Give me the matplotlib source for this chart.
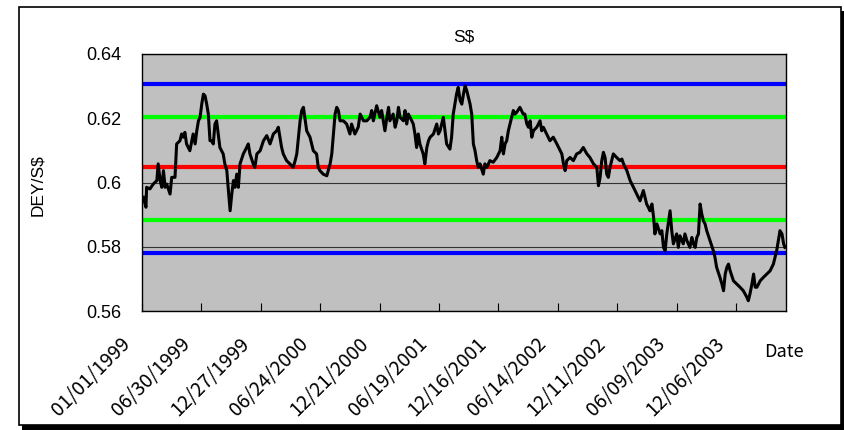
import numpy as np
import matplotlib
matplotlib.use("Agg")
import matplotlib.pyplot as plt
import matplotlib.dates as mdates
from matplotlib.patches import Rectangle
from matplotlib.transforms import ScaledTranslation

# DEY per S$ (days counted from 01/01/1999)
day_offset = [4, 12, 14, 24, 34, 45, 49, 55, 60, 65, 70, 75, 85, 90, 100, 105, 115, 120, 125, 130,
              135, 145, 151, 155, 161, 166, 171, 176, 181, 186, 191, 196, 201, 206, 211, 216, 221, 226,
              231, 236, 246, 251, 257, 261, 267, 272, 277, 282, 287, 292, 297, 307, 317, 322, 327, 337,
              342, 348, 358, 368, 378, 388, 398, 408, 413, 418, 423, 428, 438, 448, 458, 464, 469, 474,
              479, 484, 489, 499, 509, 519, 529, 534, 539, 549, 560, 570, 575, 580, 585, 590, 595, 600,
              610, 620, 630, 635, 645, 655, 661, 671, 681, 691, 696, 701, 711, 721, 726, 731, 736, 742,
              747, 751, 761, 767, 772, 777, 782, 792, 797, 802, 807, 812, 822, 827, 832, 837, 842, 852,
              857, 863, 868, 873, 883, 893, 898, 903, 913, 923, 933, 938, 943, 948, 953, 958, 964, 969,
              974, 979, 984, 989, 994, 999, 1004, 1009, 1014, 1019, 1024, 1029, 1034, 1039, 1045, 1054,
              1064, 1075, 1085, 1090, 1095, 1100, 1105, 1110, 1115, 1120, 1125, 1130, 1135, 1145, 1155,
              1160, 1166, 1171, 1176, 1181, 1186, 1196, 1206, 1211, 1216, 1226, 1236, 1246, 1257, 1267,
              1272, 1277, 1282, 1287, 1297, 1307, 1317, 1327, 1337, 1348, 1357, 1368, 1378, 1383, 1388,
              1393, 1398, 1403, 1408, 1413, 1418, 1428, 1438, 1448, 1454, 1459, 1469, 1479, 1489, 1499,
              1509, 1519, 1524, 1529, 1534, 1539, 1545, 1550, 1554, 1560, 1570, 1575, 1580, 1585, 1590,
              1600, 1605, 1610, 1620, 1625, 1630, 1640, 1645, 1651, 1660, 1666, 1671, 1676, 1681, 1686,
              1691, 1696, 1701, 1706, 1711, 1721, 1731, 1736, 1741, 1751, 1757, 1762, 1767, 1772, 1777,
              1782, 1792, 1802, 1812, 1822, 1833, 1837, 1842, 1848, 1853, 1858, 1863, 1873, 1883, 1893,
              1903, 1913, 1918, 1923, 1928, 1933, 1939, 1944, 1948]
rate = [0.5954, 0.5923, 0.5985, 0.5980, 0.5995, 0.6006, 0.6058, 0.6006, 0.5985, 0.6037, 0.5985,
        0.5995, 0.5964, 0.6016, 0.6016, 0.6120, 0.6130, 0.6151, 0.6141, 0.6156, 0.6120, 0.6099,
        0.6130, 0.6151, 0.6120, 0.6161, 0.6192, 0.6203, 0.6244, 0.6275, 0.6270, 0.6244, 0.6213,
        0.6130, 0.6130, 0.6120, 0.6182, 0.6192, 0.6151, 0.6109, 0.6089, 0.6058, 0.6037, 0.5985,
        0.5912, 0.5964, 0.6006, 0.5985, 0.6026, 0.5985, 0.6058, 0.6089, 0.6109, 0.6120, 0.6089,
        0.6058, 0.6047, 0.6089, 0.6099, 0.6130, 0.6146, 0.6120, 0.6151, 0.6161, 0.6172, 0.6141,
        0.6109, 0.6089, 0.6068, 0.6058, 0.6047, 0.6068, 0.6089, 0.6141, 0.6192, 0.6224, 0.6234,
        0.6161, 0.6141, 0.6099, 0.6089, 0.6047, 0.6037, 0.6026, 0.6021, 0.6058, 0.6089, 0.6151,
        0.6213, 0.6234, 0.6224, 0.6192, 0.6192, 0.6182, 0.6151, 0.6182, 0.6151, 0.6172, 0.6213,
        0.6192, 0.6192, 0.6203, 0.6224, 0.6192, 0.6239, 0.6203, 0.6224, 0.6192, 0.6161, 0.6203,
        0.6234, 0.6192, 0.6213, 0.6172, 0.6192, 0.6234, 0.6203, 0.6192, 0.6224, 0.6182, 0.6213,
        0.6203, 0.6182, 0.6151, 0.6109, 0.6151, 0.6120, 0.6089, 0.6058, 0.6109, 0.6130, 0.6141,
        0.6151, 0.6182, 0.6151, 0.6161, 0.6203, 0.6120, 0.6104, 0.6141, 0.6213, 0.6244, 0.6275,
        0.6296, 0.6255, 0.6244, 0.6275, 0.6301, 0.6286, 0.6265, 0.6244, 0.6213, 0.6120, 0.6099,
        0.6068, 0.6047, 0.6058, 0.6042, 0.6026, 0.6058, 0.6047, 0.6068, 0.6063, 0.6078, 0.6099,
        0.6141, 0.6089, 0.6120, 0.6130, 0.6161, 0.6182, 0.6203, 0.6224, 0.6213, 0.6218, 0.6234,
        0.6213, 0.6213, 0.6182, 0.6172, 0.6192, 0.6141, 0.6161, 0.6172, 0.6192, 0.6161, 0.6172,
        0.6151, 0.6130, 0.6141, 0.6120, 0.6099, 0.6089, 0.6058, 0.6037, 0.6068, 0.6078, 0.6068,
        0.6089, 0.6094, 0.6109, 0.6089, 0.6078, 0.6058, 0.6047, 0.5990, 0.6016, 0.6068, 0.6094,
        0.6078, 0.6026, 0.6016, 0.6047, 0.6089, 0.6078, 0.6068, 0.6073, 0.6058, 0.6037, 0.6006,
        0.5985, 0.5964, 0.5943, 0.5975, 0.5954, 0.5933, 0.5923, 0.5912, 0.5933, 0.5892, 0.5840,
        0.5871, 0.5840, 0.5850, 0.5798, 0.5788, 0.5840, 0.5912, 0.5850, 0.5809, 0.5840, 0.5798,
        0.5834, 0.5809, 0.5840, 0.5819, 0.5798, 0.5829, 0.5809, 0.5798, 0.5829, 0.5840, 0.5933,
        0.5902, 0.5881, 0.5871, 0.5850, 0.5819, 0.5788, 0.5767, 0.5736, 0.5705, 0.5684, 0.5663,
        0.5715, 0.5736, 0.5746, 0.5725, 0.5694, 0.5684, 0.5674, 0.5663, 0.5642, 0.5632, 0.5653,
        0.5684, 0.5715, 0.5674, 0.5674, 0.5694, 0.5705, 0.5715, 0.5725, 0.5746, 0.5767, 0.5788,
        0.5819, 0.5850, 0.5840, 0.5809, 0.5798]

# reference levels: mean, +/- band (green), outer band (blue)
mean_level = 0.6047
green_levels = [0.6204, 0.5883]
blue_levels = [0.6307, 0.5780]

tick_labels = ['01/01/1999', '06/30/1999', '12/27/1999', '06/24/2000', '12/21/2000', '06/19/2001',
               '12/16/2001', '06/14/2002', '12/11/2002', '06/09/2003', '12/06/2003']
y_ticks = [0.56, 0.58, 0.6, 0.62, 0.64]
y_tick_labels = ['0.56', '0.58', '0.6', '0.62', '0.64']

start = np.datetime64('1999-01-01')
dates = start + np.array(day_offset).astype('timedelta64[D]')
tick_dates = [np.datetime64(f"{s[6:]}-{s[:2]}-{s[3:5]}") for s in tick_labels]
end = start + np.timedelta64(1950, 'D')

fig = plt.figure(figsize=(8.45, 4.30), dpi=100)
W, H = 845, 430

# outer chart frame with a drop shadow
fig.patches.append(Rectangle((22 / W, 0), 823 / W, 419 / H, transform=fig.transFigure,
                             facecolor='black', edgecolor='none', zorder=-2))
fig.patches.append(Rectangle((19 / W, 5 / H), 822 / W, 418 / H, transform=fig.transFigure,
                             facecolor='white', edgecolor='black', linewidth=1.2, zorder=-1))

ax = fig.add_axes([142 / W, 1 - 311 / H, 643.6 / W, 257 / H])
ax.set_facecolor('#c0c0c0')

for y in y_ticks:
    ax.axhline(y, color='#333333', linewidth=0.8, zorder=1)
for y in blue_levels:
    ax.axhline(y, color='#0000ff', linewidth=3, zorder=2)
for y in green_levels:
    ax.axhline(y, color='#00ff00', linewidth=3, zorder=2)
ax.axhline(mean_level, color='#ff0000', linewidth=3, zorder=2)

ax.plot(dates, rate, color='black', linewidth=2.2, zorder=3)

ax.set_xlim(start, end)
ax.set_ylim(0.56, 0.64)
ax.set_yticks(y_ticks)
ax.set_yticklabels(y_tick_labels, fontsize=13, family='Liberation Sans')
ax.tick_params(axis='y', length=0, pad=15)

ax.set_xticks(mdates.date2num(tick_dates))
ax.set_xticklabels(tick_labels, rotation=45, ha='right', rotation_mode='anchor',
                   fontsize=14, family='Noto Sans CJK JP')
ax.tick_params(axis='x', direction='in', length=6, pad=10)
shift = ScaledTranslation(-22 / 100, -8 / 100, fig.dpi_scale_trans)
for lab in ax.get_xticklabels():
    lab.set_transform(lab.get_transform() + shift)

for s in ax.spines.values():
    s.set_linewidth(1.0)
    s.set_color('black')

ax.set_title('S$', fontsize=12.5, family='Liberation Sans', pad=9)
fig.text(38 / W, 1 - 185 / H, 'DEY/S$', rotation=90, ha='center', va='center',
         fontsize=12.5, family='Liberation Sans')
fig.text(784 / W, 1 - 352 / H, 'Date', ha='center', va='center',
         fontsize=13, family='Noto Sans CJK JP')

fig.savefig('out.png', dpi=100)
